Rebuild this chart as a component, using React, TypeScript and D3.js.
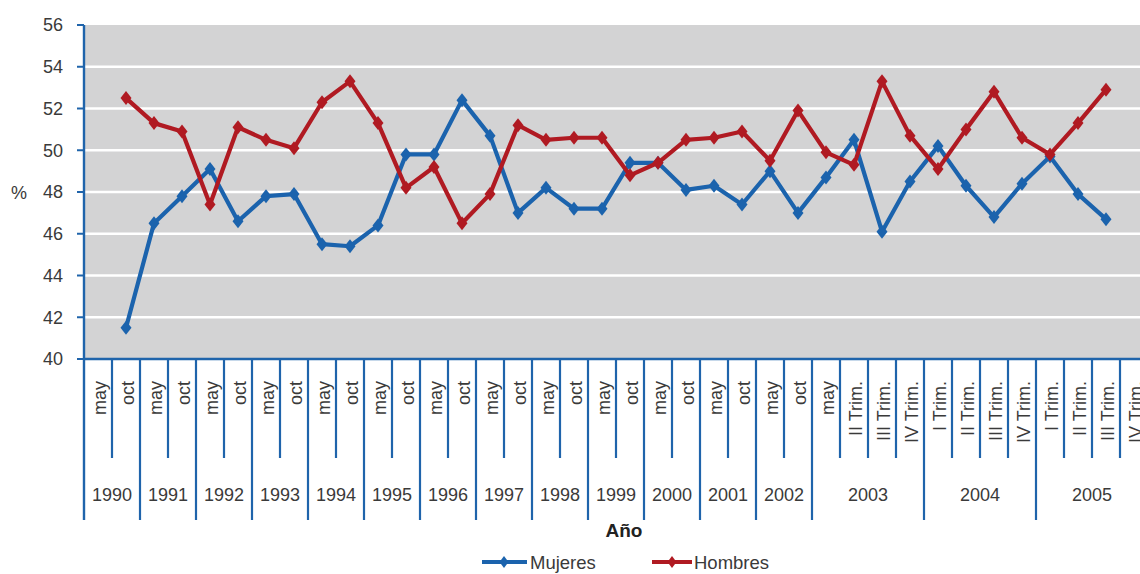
import React from "react";
import * as d3 from "d3";

const periods: string[] = [
  "may", "oct", "may", "oct", "may", "oct", "may", "oct", "may", "oct",
  "may", "oct", "may", "oct", "may", "oct", "may", "oct", "may", "oct",
  "may", "oct", "may", "oct", "may", "oct",
  "may", "II Trim.", "III Trim.", "IV Trim.",
  "I Trim.", "II Trim.", "III Trim.", "IV Trim.",
  "I Trim.", "II Trim.", "III Trim.", "IV Trim.",
];

const years: string[] = [
  "1990", "1991", "1992", "1993", "1994", "1995", "1996", "1997", "1998",
  "1999", "2000", "2001", "2002", "2003", "2004", "2005",
];
const yearSpans: number[] = [2, 2, 2, 2, 2, 2, 2, 2, 2, 2, 2, 2, 2, 4, 4, 4];

const mujeres: (number | null)[] = [
  null, 41.5, 46.5, 47.8, 49.1, 46.6, 47.8, 47.9, 45.5, 45.4, 46.4, 49.8,
  49.8, 52.4, 50.7, 47.0, 48.2, 47.2, 47.2, 49.4, 49.4, 48.1, 48.3, 47.4,
  49.0, 47.0, 48.7, 50.5, 46.1, 48.5, 50.2, 48.3, 46.8, 48.4, 49.7, 47.9,
  46.7, null,
];

const hombres: (number | null)[] = [
  null, 52.5, 51.3, 50.9, 47.4, 51.1, 50.5, 50.1, 52.3, 53.3, 51.3, 48.2,
  49.2, 46.5, 47.9, 51.2, 50.5, 50.6, 50.6, 48.8, 49.4, 50.5, 50.6, 50.9,
  49.5, 51.9, 49.9, 49.3, 53.3, 50.7, 49.1, 51.0, 52.8, 50.6, 49.8, 51.3,
  52.9, null,
];

const yTicks: number[] = [40, 42, 44, 46, 48, 50, 52, 54, 56];

const W = 1140;
const H = 574;
const BLUE = "#1b63ad";
const RED = "#b01a22";
const AXIS = "#1f64ab";
const TEXT = "#3a3a3a";
const FONT = "'Liberation Sans', Arial, sans-serif";

const left = 84;
const top = 25;
const bottom = 359;
const catW = 28;

export default function App() {
  const idx = periods.map((_, i) => i);
  const x = d3
    .scaleBand<number>()
    .domain(idx)
    .range([left, left + periods.length * catW])
    .padding(0);
  const y = d3.scaleLinear().domain([40, 56]).range([bottom, top]);
  const cx = (i: number) => (x(i) as number) + x.bandwidth() / 2;

  const line = d3
    .line<number | null>()
    .defined((d) => d != null)
    .x((_, i) => cx(i))
    .y((d) => y(d as number));

  const diamond = (px: number, py: number, w = 5.5, h = 7) =>
    `M${px},${py - h}L${px + w},${py}L${px},${py + h}L${px - w},${py}Z`;

  const yearStarts: number[] = [];
  let acc = 0;
  yearSpans.forEach((s) => {
    yearStarts.push(acc);
    acc += s;
  });
  const yearBoundarySet = new Set<number>([...yearStarts, acc]);

  const series = [
    { name: "Mujeres", data: mujeres, color: BLUE },
    { name: "Hombres", data: hombres, color: RED },
  ];

  return (
    <svg
      width={W}
      height={H}
      style={{ position: "absolute", left: 0, top: 0, display: "block" }}
      fontFamily={FONT}
    >
      <rect x={0} y={0} width={W} height={H} fill="#ffffff" />
      <rect x={left} y={top} width={W - left} height={bottom - top} fill="#d3d3d4" />
      {yTicks
        .filter((t) => t > 40 && t < 56)
        .map((t) => (
          <line key={"g" + t} x1={left} x2={W} y1={y(t)} y2={y(t)} stroke="#ffffff" strokeWidth={2.5} />
        ))}
      <line x1={left} x2={left} y1={top} y2={520} stroke={AXIS} strokeWidth={2.4} />
      {yTicks.map((t) => (
        <g key={"yt" + t}>
          <line x1={77} x2={left} y1={y(t)} y2={y(t)} stroke={AXIS} strokeWidth={2} />
          <text x={63} y={y(t)} dy="0.35em" textAnchor="end" fontSize={18} fill={TEXT}>
            {t}
          </text>
        </g>
      ))}
      <text x={19} y={y(48)} dy="0.4em" textAnchor="middle" fontSize={18} fill={TEXT}>
        %
      </text>
      <line x1={left} x2={W} y1={bottom} y2={bottom} stroke={AXIS} strokeWidth={2.4} />
      {d3.range(1, periods.length + 1).map((b) => {
        const bx = left + b * catW;
        const long = yearBoundarySet.has(b);
        return (
          <line key={"xb" + b} x1={bx} x2={bx} y1={bottom} y2={long ? 520 : 458} stroke={AXIS} strokeWidth={2.2} />
        );
      })}
      {periods.map((p, i) => (
        <text
          key={"p" + i}
          transform={`translate(${cx(i) + 8},381) rotate(-90)`}
          textAnchor="end"
          fontSize={18}
          fill={TEXT}
        >
          {p}
        </text>
      ))}
      {years.map((yr, k) => {
        const s = yearStarts[k];
        const mid = left + (s + yearSpans[k] / 2) * catW;
        return (
          <text key={"yr" + yr} x={mid} y={501} textAnchor="middle" fontSize={18} fill={TEXT}>
            {yr}
          </text>
        );
      })}
      <text x={624} y={537} textAnchor="middle" fontSize={19} fontWeight="bold" fill="#222">
        Año
      </text>
      {series.map((s) => (
        <g key={s.name}>
          <path d={line(s.data) || ""} fill="none" stroke={s.color} strokeWidth={4.2} strokeLinejoin="round" />
          {s.data.map((v, i) =>
            v == null ? null : <path key={i} d={diamond(cx(i), y(v))} fill={s.color} />
          )}
        </g>
      ))}
      <g>
        <line x1={482} x2={527} y1={562} y2={562} stroke={BLUE} strokeWidth={4} />
        <path d={diamond(504, 562, 4.5, 6)} fill={BLUE} />
        <text x={530} y={569} fontSize={18.5} fill={TEXT}>
          Mujeres
        </text>
        <line x1={652} x2={692} y1={562} y2={562} stroke={RED} strokeWidth={4} />
        <path d={diamond(672, 562, 4.5, 6)} fill={RED} />
        <text x={694} y={569} fontSize={18.5} fill={TEXT}>
          Hombres
        </text>
      </g>
    </svg>
  );
}
